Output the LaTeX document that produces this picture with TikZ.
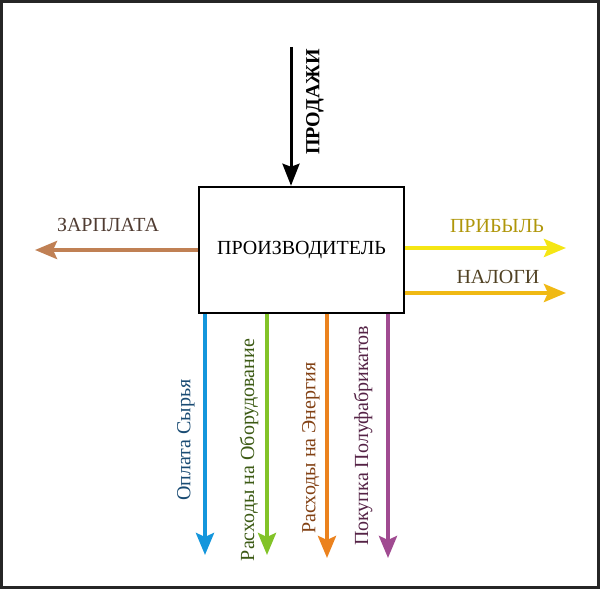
\documentclass[tikz,border=0pt]{standalone}
\usepackage{fontspec}
\setmainfont{Liberation Serif}
\usetikzlibrary{arrows.meta}

\definecolor{wagearrow}{RGB}{192,128,84}
\definecolor{wagetext}{RGB}{80,60,50}
\definecolor{profitarrow}{RGB}{245,230,20}
\definecolor{profittext}{RGB}{175,150,10}
\definecolor{taxarrow}{RGB}{240,185,20}
\definecolor{taxtext}{RGB}{80,65,35}
\definecolor{rawarrow}{RGB}{20,150,220}
\definecolor{rawtext}{RGB}{25,75,115}
\definecolor{equiparrow}{RGB}{130,195,40}
\definecolor{equiptext}{RGB}{60,90,20}
\definecolor{energyarrow}{RGB}{235,130,30}
\definecolor{energytext}{RGB}{130,65,20}
\definecolor{semiarrow}{RGB}{160,75,145}
\definecolor{semitext}{RGB}{85,35,70}

\begin{document}
\begin{tikzpicture}[
    x=1pt, y=1pt,
    flow/.style={line width=4pt, -{Stealth[length=22pt, width=18pt, inset=4pt]}},
    lbl/.style={font=\fontsize{20}{24}\selectfont, inner sep=0pt},
    vlbl/.style={lbl, rotate=90}
]
\useasboundingbox (0,0) rectangle (600,589);
\draw[line width=3pt, draw=black!85] (1.5,1.5) rectangle (598.5,587.5);

% Producer
\node[draw, line width=2.5pt, minimum width=205pt, minimum height=126pt, lbl] (prod) at (301.5,339) {ПРОИЗВОДИТЕЛЬ};

% Free ends of the flows
\coordinate (sales) at (291,542);
\coordinate (wage) at (35,339);
\coordinate (profit) at (566,341);
\coordinate (tax) at (566,296);
\coordinate (raw) at (205,34);
\coordinate (equip) at (267,34);
\coordinate (energy) at (327,31);
\coordinate (semi) at (388,31);

% --- input ---
\draw[line width=3pt, -{Stealth[length=22pt, width=17pt, inset=3pt]}] (sales) -- (sales |- prod.north);
\node[vlbl, font=\fontsize{20}{24}\selectfont\bfseries] (saleslbl) at (315,487) {ПРОДАЖИ};

% --- outputs left / right ---
\draw[flow, wagearrow] (prod.west |- wage) -- (wage);
\node[lbl, text=wagetext] (wagelbl) at (108,364) {ЗАРПЛАТА};

\draw[flow, profitarrow] (prod.east |- profit) -- (profit);
\node[lbl, text=profittext] (profitlbl) at (497,363) {ПРИБЫЛЬ};

\draw[flow, taxarrow] (prod.east |- tax) -- (tax);
\node[lbl, text=taxtext] (taxlbl) at (498,312) {НАЛОГИ};

% --- outputs down ---
\draw[flow, rawarrow] (raw |- prod.south) -- (raw);
\node[vlbl, text=rawtext] (rawlbl) at (186,149) {Оплата Сырья};

\draw[flow, equiparrow] (equip |- prod.south) -- (equip);
\node[vlbl, text=equiptext] (equiplbl) at (249,139) {Расходы на Оборудование};

\draw[flow, energyarrow] (energy |- prod.south) -- (energy);
\node[vlbl, text=energytext] (energylbl) at (311,141) {Расходы на Энергия};

\draw[flow, semiarrow] (semi |- prod.south) -- (semi);
\node[vlbl, text=semitext] (semilbl) at (363,153) {Покупка Полуфабрикатов};

\end{tikzpicture}
\end{document}
